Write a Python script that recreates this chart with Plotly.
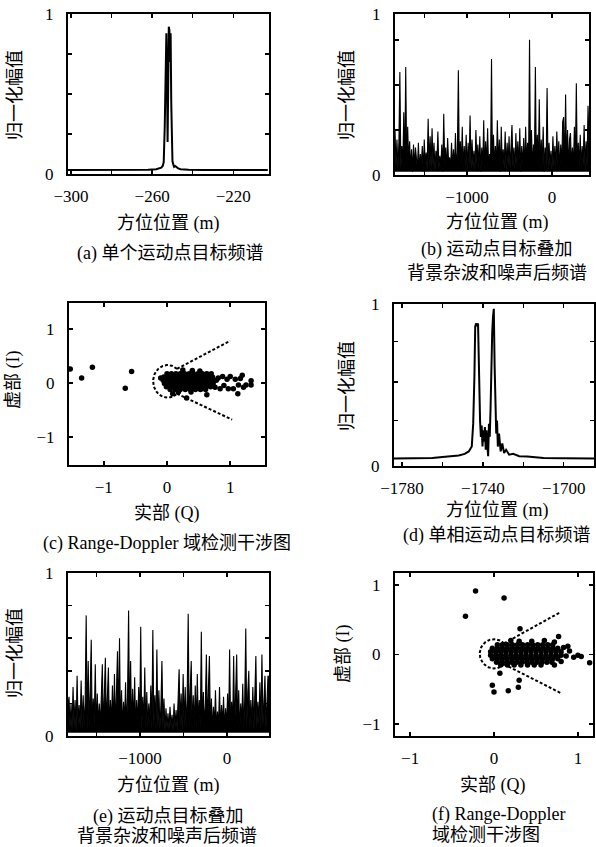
import numpy as np
import plotly.graph_objects as go

W, H = 596, 847
SERIF = "Liberation Serif, Noto Sans CJK SC, serif"

# ---------------- data ----------------
# (a) single moving point target spectrum
a_azimuth = [-302, -270, -262, -258, -256.5, -255.5, -254.8, -254.3, -253.8, -253.4,
             -253.0, -252.7, -252.4, -252.1, -251.8, -251.5, -251.2, -250.9, -250.6, -250.3,
             -250.0, -249.6, -249.2, -248.7, -248.0, -247.2, -246.0, -244.5, -242, -235, -203]
a_amplitude = [0.025, 0.025, 0.026, 0.03, 0.035, 0.04, 0.05, 0.075, 0.3, 0.72,
               0.88, 0.6, 0.2, 0.55, 0.92, 0.9, 0.7, 0.88, 0.45, 0.15,
               0.08, 0.06, 0.045, 0.05, 0.04, 0.035, 0.03, 0.028, 0.026, 0.025, 0.025]

# (b) target + clutter + noise spectrum
b_azimuth_span = (-1847, 435)
b_floor = 0.02
b_amplitude = [
    0.28, 0.05, 0.22, 0.03, 0.2, 0.64, 0.04, 0.18, 0.06, 0.39, 0.03, 0.67, 0.05, 0.3, 0.08, 0.21, 0.04, 0.16, 0.02, 0.19,
    0.05, 0.17, 0.1, 0.04, 0.2, 0.03, 0.13, 0.06, 0.18, 0.02, 0.22, 0.07, 0.14, 0.03, 0.35, 0.05, 0.24, 0.04, 0.29, 0.06,
    0.2, 0.03, 0.15, 0.08, 0.27, 0.04, 0.12, 0.05, 0.19, 0.02, 0.38, 0.06, 0.17, 0.03, 0.23, 0.07, 0.11, 0.04, 0.2, 0.05,
    0.16, 0.03, 0.26, 0.05, 0.14, 0.65, 0.04, 0.21, 0.06, 0.3, 0.03, 0.18, 0.05, 0.25, 0.02, 0.2, 0.06, 0.37, 0.04, 0.22,
    0.05, 0.15, 0.03, 0.28, 0.07, 0.19, 0.04, 0.24, 0.02, 0.17, 0.05, 0.34, 0.03, 0.21, 0.06, 0.29, 0.04, 0.13, 0.05, 0.72,
    0.03, 0.25, 0.06, 0.18, 0.04, 0.34, 0.05, 0.22, 0.02, 0.3, 0.07, 0.16, 0.04, 0.27, 0.03, 0.2, 0.06, 0.24, 0.04, 0.19,
    0.31, 0.05, 0.17, 0.03, 0.26, 0.06, 0.21, 0.04, 0.29, 0.02, 0.18, 0.05, 0.23, 0.03, 0.3, 0.07, 0.2, 0.04, 0.84, 0.05,
    0.28, 0.03, 0.19, 0.06, 0.67, 0.04, 0.25, 0.05, 0.47, 0.03, 0.22, 0.06, 0.3, 0.02, 0.17, 0.05, 0.54, 0.04, 0.2, 0.06,
    0.15, 0.03, 0.24, 0.05, 0.18, 0.04, 0.27, 0.06, 0.21, 0.03, 0.19, 0.05, 0.33, 0.36, 0.04, 0.5, 0.06, 0.28, 0.03, 0.22,
    0.26, 0.05, 0.17, 0.04, 0.3, 0.06, 0.57, 0.03, 0.2, 0.05, 0.25, 0.04, 0.18, 0.06, 0.31, 0.03, 0.21, 0.05, 0.43, 0.2,
]

# (d) single-phase moving point target spectrum
d_azimuth = [-1784, -1770, -1765, -1760, -1756, -1752, -1749, -1747, -1745.5, -1744.8,
             -1744.2, -1743.8, -1743.4, -1742.9, -1742.4, -1742.0, -1741.7, -1741.4, -1741.0, -1740.6,
             -1740.2, -1739.8, -1739.4, -1739.0, -1738.6, -1738.2, -1737.8, -1737.4, -1737.0, -1736.6,
             -1736.2, -1735.8, -1735.4, -1735.0, -1734.6, -1734.2, -1733.8, -1733.4, -1733.0, -1732.6,
             -1732.0, -1731.2, -1730.4, -1729.5, -1728.5, -1727, -1725, -1722, -1718, -1714,
             -1710, -1700, -1685]
d_amplitude = [0.047, 0.048, 0.05, 0.055, 0.058, 0.065, 0.075, 0.09, 0.12, 0.26,
               0.55, 0.86, 0.88, 0.87, 0.88, 0.65, 0.32, 0.28, 0.18, 0.25,
               0.12, 0.22, 0.15, 0.24, 0.1, 0.22, 0.13, 0.06, 0.26, 0.18,
               0.36, 0.78, 0.82, 0.92, 0.97, 0.62, 0.45, 0.2, 0.28, 0.12,
               0.2, 0.09, 0.14, 0.08, 0.1, 0.07, 0.075, 0.06, 0.058, 0.055,
               0.05, 0.048, 0.047]

# (e) target + clutter + noise spectrum
e_azimuth_span = (-1828, 483)
e_floor = 0.02
e_amplitude = [
    0.18, 0.24, 0.05, 0.2, 0.04, 0.3, 0.06, 0.22, 0.03, 0.37, 0.07, 0.19, 0.05, 0.34, 0.04, 0.25, 0.06, 0.21, 0.74, 0.03,
    0.46, 0.05, 0.28, 0.59, 0.04, 0.23, 0.07, 0.44, 0.03, 0.26, 0.06, 0.2, 0.05, 0.3, 0.44, 0.04, 0.24, 0.48, 0.06, 0.27,
    0.42, 0.03, 0.22, 0.07, 0.31, 0.05, 0.38, 0.04, 0.25, 0.52, 0.06, 0.6, 0.03, 0.28, 0.05, 0.21, 0.08, 0.33, 0.04, 0.26,
    0.77, 0.05, 0.46, 0.03, 0.29, 0.06, 0.36, 0.04, 0.22, 0.07, 0.3, 0.05, 0.67, 0.03, 0.24, 0.06, 0.42, 0.04, 0.27, 0.05,
    0.2, 0.07, 0.31, 0.04, 0.65, 0.06, 0.25, 0.03, 0.53, 0.05, 0.28, 0.04, 0.19, 0.46, 0.06, 0.23, 0.03, 0.17, 0.05, 0.14,
    0.04, 0.18, 0.06, 0.13, 0.03, 0.2, 0.05, 0.16, 0.04, 0.22, 0.41, 0.06, 0.26, 0.03, 0.38, 0.05, 0.3, 0.04, 0.24, 0.75,
    0.06, 0.28, 0.46, 0.03, 0.25, 0.05, 0.31, 0.04, 0.38, 0.07, 0.22, 0.05, 0.64, 0.03, 0.27, 0.06, 0.2, 0.5, 0.04, 0.29,
    0.49, 0.05, 0.23, 0.03, 0.18, 0.06, 0.28, 0.04, 0.15, 0.05, 0.3, 0.03, 0.19, 0.07, 0.24, 0.04, 0.17, 0.06, 0.26, 0.05,
    0.53, 0.03, 0.21, 0.06, 0.49, 0.04, 0.25, 0.5, 0.05, 0.28, 0.03, 0.2, 0.07, 0.32, 0.04, 0.23, 0.66, 0.05, 0.27, 0.4,
    0.04, 0.22, 0.06, 0.3, 0.03, 0.25, 0.49, 0.05, 0.21, 0.07, 0.33, 0.04, 0.5, 0.06, 0.26, 0.37, 0.05, 0.3, 0.37, 0.36,
]

# (c) interferogram points (Q, I)
c_blob_rows = [
    (0.17, [0.00, 0.07, 0.14, 0.21, 0.28, 0.35, 0.42, 0.49, 0.56, 0.63]),
    (0.11, [-0.05, 0.02, 0.09, 0.16, 0.23, 0.30, 0.37, 0.44, 0.51, 0.58, 0.65, 0.72]),
    (0.05, [-0.06, 0.01, 0.08, 0.15, 0.22, 0.29, 0.36, 0.43, 0.50, 0.57, 0.64, 0.71, 0.78]),
    (-0.01, [-0.04, 0.03, 0.10, 0.17, 0.24, 0.31, 0.38, 0.45, 0.52, 0.59, 0.66, 0.73]),
    (-0.07, [-0.01, 0.06, 0.13, 0.20, 0.27, 0.34, 0.41, 0.48, 0.55, 0.62, 0.69]),
    (-0.12, [0.05, 0.13, 0.21, 0.29, 0.37, 0.45, 0.53, 0.61]),
]
c_scatter = [(0.81, 0.09), (0.88, 0.12), (0.95, 0.07), (1.0, 0.12), (1.05, -0.11), (1.08, 0.07),
             (1.12, -0.2), (1.13, -0.04), (1.16, 0.08), (1.19, 0.14), (1.21, -0.08), (1.25, -0.04),
             (1.33, 0.04), (1.33, -0.04), (0.63, -0.22), (0.31, -0.28), (0.09, -0.2), (0.84, -0.11),
             (0.97, -0.11), (0.90, -0.05), (0.52, 0.22), (0.25, 0.24), (0.40, 0.23), (0.70, 0.17),
             (0.76, -0.08), (0.38, -0.17), (0.18, -0.17),
             (-1.53, 0.26), (-1.35, 0.09), (-1.18, 0.29), (-0.66, -0.10), (-0.56, 0.21), (-0.10, 0.09)]
c_arc_center = (0.01, 0.03)
c_arc_radii = (0.23, 0.30)
c_arc_angles = (50, 310)
c_cone_upper = [(0.158, 0.26), (1.0, 0.78)]
c_cone_lower = [(0.158, -0.2), (1.03, -0.68)]

# (f) interferogram points (Q, I)
f_blob_rows = [
    (0.14, [0.04, 0.10, 0.16, 0.22, 0.28, 0.34, 0.40, 0.46, 0.52, 0.58, 0.64, 0.70]),
    (0.09, [-0.02, 0.04, 0.10, 0.16, 0.22, 0.28, 0.34, 0.40, 0.46, 0.52, 0.58, 0.64, 0.70, 0.76]),
    (0.04, [-0.04, 0.02, 0.08, 0.14, 0.20, 0.26, 0.32, 0.38, 0.44, 0.50, 0.56, 0.62, 0.68, 0.74, 0.80]),
    (-0.01, [-0.04, 0.02, 0.08, 0.14, 0.20, 0.26, 0.32, 0.38, 0.44, 0.50, 0.56, 0.62, 0.68, 0.74, 0.80]),
    (-0.06, [-0.02, 0.04, 0.10, 0.16, 0.22, 0.28, 0.34, 0.40, 0.46, 0.52, 0.58, 0.64, 0.70, 0.76]),
    (-0.11, [0.03, 0.09, 0.15, 0.21, 0.27, 0.33, 0.39, 0.45, 0.51, 0.57, 0.63, 0.69]),
    (-0.15, [0.08, 0.16, 0.24, 0.32, 0.40, 0.48, 0.56]),
]
f_scatter = [(0.20, 0.20), (0.30, 0.19), (0.45, 0.19), (0.60, 0.20), (0.72, 0.18), (0.72, -0.15),
             (0.83, 0.10), (0.86, -0.02), (0.80, -0.10), (0.90, 0.05), (0.95, -0.04), (0.77, 0.26),
             (0.88, 0.12), (1.0, -0.01), (1.04, -0.03), (1.14, -0.12),
             (-0.34, 0.55), (-0.22, 0.91), (0.12, 0.81), (0.31, 0.37), (-0.02, -0.44), (0.0, -0.54),
             (0.17, -0.52), (0.29, -0.47), (0.30, -0.37), (0.07, -0.27)]
f_arc_center = (0.0, 0.01)
f_arc_radii = (0.17, 0.21)
f_arc_angles = (45, 315)
f_cone_upper = [(0.12, 0.16), (0.78, 0.60)]
f_cone_lower = [(0.12, -0.14), (0.79, -0.55)]

# tick definitions
a_xticks = ([-300, -280, -260, -240, -220], ["\u2212300", "", "\u2212260", "", "\u2212220"])
b_xticks = ([-1500, -1000, -500, 0], ["", "\u22121000", "", "0"])
d_xticks = ([-1780, -1760, -1740, -1720, -1700], ["\u22121780", "", "\u22121740", "", "\u22121700"])
e_xticks = ([-1500, -1000, -500, 0], ["", "\u22121000", "", "0"])
iq_ticks = ([-1, 0, 1], ["\u22121", "0", "1"])
amp_ticks_a = ([0, 0.25, 0.5, 0.75, 1], ["0", "", "", "", "1"])
amp_ticks_b = ([0, 0.28, 0.56, 0.84, 1], ["0", "", "", "", "1"])
amp_ticks_d = ([0, 0.28, 0.52, 0.77, 1], ["0", "", "", "", "1"])
amp_ticks_e = ([0, 0.2, 0.4, 0.6, 0.8, 1], ["0", "", "", "", "", "1"])

# ---------------- layout geometry (pixels) ----------------
boxes = {
    "a": (68, 269, 14, 174),
    "b": (395, 589, 14, 175),
    "c": (69, 265, 303, 465),
    "d": (394, 594, 304, 466),
    "e": (68, 269, 573, 736),
    "f": (395, 593, 573, 736),
}
order = ["a", "b", "c", "d", "e", "f"]
ranges = {
    "a": ([-301.5, -202.4], [0, 1]),
    "b": ([b_azimuth_span[0], b_azimuth_span[1]], [0, 1]),
    "c": ([-1.55, 1.55], [-1.52, 1.48]),
    "d": ([-1784, -1685], [0, 1]),
    "e": ([e_azimuth_span[0], e_azimuth_span[1]], [0, 1]),
    "f": ([-1.18, 1.18], [-1.17, 1.17]),
}
xticks = {"a": a_xticks, "b": b_xticks, "c": iq_ticks, "d": d_xticks, "e": e_xticks, "f": iq_ticks}
yticks = {"a": amp_ticks_a, "b": amp_ticks_b, "c": iq_ticks, "d": amp_ticks_d, "e": amp_ticks_e, "f": iq_ticks}

fig = go.Figure()


def axis_names(i):
    s = "" if i == 0 else str(i + 1)
    return "x" + s, "y" + s


def base_axis(tv, tt, rng):
    return dict(range=rng, tickvals=tv, ticktext=tt, showline=True, linecolor="black",
                linewidth=2, mirror="ticks", ticks="inside", ticklen=4, tickwidth=1.5,
                tickcolor="black", showgrid=False, zeroline=False, fixedrange=True,
                automargin=False,
                tickfont=dict(family=SERIF, size=17, color="black"))


layout_axes = {}
for i, k in enumerate(order):
    xn, yn = axis_names(i)
    x0, x1, y0, y1 = boxes[k]
    xa = base_axis(*xticks[k], ranges[k][0])
    xa.update(domain=[x0 / W, x1 / W], anchor=yn, ticklabelstandoff=6)
    ya = base_axis(*yticks[k], ranges[k][1])
    ya.update(domain=[1 - y1 / H, 1 - y0 / H], anchor=xn, ticklabelstandoff=9)
    layout_axes["xaxis" if i == 0 else f"xaxis{i+1}"] = xa
    layout_axes["yaxis" if i == 0 else f"yaxis{i+1}"] = ya

line_style = dict(color="black", width=2)

# (a)
fig.add_trace(go.Scatter(x=a_azimuth, y=a_amplitude, mode="lines", line=line_style,
                         xaxis="x", yaxis="y", hoverinfo="skip"))


def add_noise(span, floor, amps, xa, ya):
    xs = np.linspace(span[0], span[1], len(amps))
    fig.add_trace(go.Scatter(x=xs, y=[floor] * len(amps), mode="lines", line=dict(width=0),
                             xaxis=xa, yaxis=ya, hoverinfo="skip"))
    fig.add_trace(go.Scatter(x=xs, y=amps, mode="lines", line=dict(color="black", width=1.1),
                             fill="tonexty", fillcolor="black",
                             xaxis=xa, yaxis=ya, hoverinfo="skip"))


# (b)
add_noise(b_azimuth_span, b_floor, b_amplitude, "x2", "y2")
# (d)
fig.add_trace(go.Scatter(x=d_azimuth, y=d_amplitude, mode="lines", line=line_style,
                         xaxis="x4", yaxis="y4", hoverinfo="skip"))
# (e)
add_noise(e_azimuth_span, e_floor, e_amplitude, "x5", "y5")


def add_iq(rows, scatter, center, radii, angles, cone_u, cone_l, xa, ya, msize):
    dash = dict(color="black", width=2, dash="3px,2px")
    th = np.deg2rad(np.linspace(angles[0], angles[1], 80))
    fig.add_trace(go.Scatter(x=center[0] + radii[0] * np.cos(th), y=center[1] + radii[1] * np.sin(th),
                             mode="lines", line=dash, xaxis=xa, yaxis=ya, hoverinfo="skip"))
    for seg in (cone_u, cone_l):
        fig.add_trace(go.Scatter(x=[p[0] for p in seg], y=[p[1] for p in seg], mode="lines",
                                 line=dash, xaxis=xa, yaxis=ya, hoverinfo="skip"))
    px, py = [], []
    for yv, xs in rows:
        for xv in xs:
            px.append(xv)
            py.append(yv)
    px += [p[0] for p in scatter]
    py += [p[1] for p in scatter]
    fig.add_trace(go.Scatter(x=px, y=py, mode="markers", marker=dict(color="black", size=msize),
                             xaxis=xa, yaxis=ya, hoverinfo="skip"))


add_iq(c_blob_rows, c_scatter, c_arc_center, c_arc_radii, c_arc_angles, c_cone_upper, c_cone_lower, "x3", "y3", 5.5)
add_iq(f_blob_rows, f_scatter, f_arc_center, f_arc_radii, f_arc_angles, f_cone_upper, f_cone_lower, "x6", "y6", 5.5)


def txt(s, x, y, angle=0, size=18):
    return dict(text=s, x=x / W, y=1 - y / H, xref="paper", yref="paper", showarrow=False,
                xanchor="center", yanchor="middle", textangle=angle,
                font=dict(family=SERIF, size=size, color="black"))


annotations = [
    txt("方位位置 (m)", 168, 223), txt("方位位置 (m)", 497, 222), txt("实部 (Q)", 167, 513),
    txt("方位位置 (m)", 497, 510), txt("方位位置 (m)", 168, 785), txt("实部 (Q)", 493, 785),
    txt("归一化幅值", 15, 95, -90), txt("归一化幅值", 347, 95, -90), txt("虚部 (I)", 13, 380, -90),
    txt("归一化幅值", 347, 386, -90), txt("归一化幅值", 15, 653, -90), txt("虚部 (I)", 343, 654, -90),
    txt("(a) 单个运动点目标频谱", 170, 253),
    txt("(b) 运动点目标叠加", 497, 250), txt("背景杂波和噪声后频谱", 497, 273),
    txt("(c) Range-Doppler 域检测干涉图", 167, 543),
    txt("(d) 单相运动点目标频谱", 497, 535),
    txt("(e) 运动点目标叠加", 168, 816), txt("背景杂波和噪声后频谱", 167, 836),
    txt("(f) Range-Doppler", 498, 814), txt("域检测干涉图", 486, 835),
]

fig.update_layout(template="none", width=W, height=H, margin=dict(l=0, r=0, t=0, b=0, pad=0),
                  showlegend=False, paper_bgcolor="white", plot_bgcolor="white",
                  annotations=annotations, font=dict(family=SERIF, color="black"), **layout_axes)

fig.write_html("out.html", config={"displayModeBar": False, "staticPlot": True},
               post_script="document.body.style.margin='0';document.body.style.padding='0';")
